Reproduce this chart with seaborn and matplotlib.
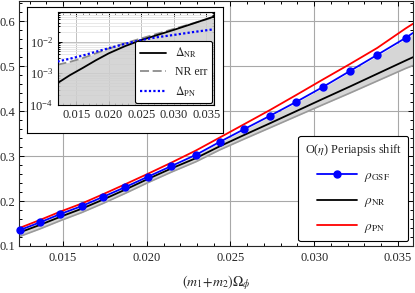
import matplotlib
matplotlib.use("Agg")
import matplotlib.pyplot as plt
import seaborn as sns
import numpy as np
from matplotlib.ticker import MultipleLocator, FormatStrFormatter, FixedLocator, LogLocator
from matplotlib.lines import Line2D

# ---------------- data ----------------
# main panel: orbital frequency (m1+m2)*Omega_phi
omega = [0.01243, 0.01363, 0.01484, 0.01612, 0.01741, 0.01872, 0.02006, 0.02147,
         0.02294, 0.02437, 0.02582, 0.02736, 0.02893, 0.03050, 0.03212, 0.03376,
         0.03546, 0.03590]
rho_gsf = [0.1356, 0.1527, 0.1711, 0.1889, 0.2096, 0.2311, 0.2540, 0.2778,
           0.3029, 0.3318, 0.3600, 0.3896, 0.4207, 0.4533, 0.4889, 0.5251,
           0.5629, 0.5740]
rho_nr = [0.1305, 0.1470, 0.1650, 0.1830, 0.2035, 0.2255, 0.2490, 0.2725,
          0.2955, 0.3220, 0.3470, 0.3730, 0.4000, 0.4270, 0.4545, 0.4830,
          0.5125, 0.5200]
rho_pn = [0.1405, 0.1580, 0.1765, 0.1945, 0.2155, 0.2375, 0.2605, 0.2855,
          0.3125, 0.3415, 0.3710, 0.4025, 0.4360, 0.4700, 0.5045, 0.5405,
          0.5840, 0.5944]
band_low = [0.1215, 0.1382, 0.1564, 0.1745, 0.1951, 0.2172, 0.2408, 0.2644,
            0.2875, 0.3140, 0.3380, 0.3630, 0.3885, 0.4140, 0.4400, 0.4670,
            0.4950, 0.5015]
band_high = [0.1350, 0.1520, 0.1703, 0.1880, 0.2086, 0.2300, 0.2528, 0.2765,
             0.3015, 0.3303, 0.3584, 0.3879, 0.4189, 0.4514, 0.4869, 0.5230,
             0.5607, 0.5718]
n_gsf_points = 17

# inset: relative differences
omega_in = [0.0121, 0.0140, 0.0160, 0.0180, 0.0200, 0.0225, 0.0250, 0.0275,
            0.0300, 0.0330, 0.0362]
delta_nr = [4.9e-4, 8.7e-4, 1.48e-3, 2.57e-3, 4.27e-3, 7.2e-3, 1.12e-2, 1.62e-2,
            2.34e-2, 3.72e-2, 6.17e-2]
nr_err = [1.86e-3, 2.29e-3, 3.02e-3, 4.27e-3, 6.03e-3, 8.9e-3, 1.26e-2, 1.78e-2,
          2.51e-2, 3.8e-2, 5.9e-2]
delta_pn = [2.34e-3, 2.88e-3, 3.63e-3, 4.79e-3, 6.17e-3, 8.5e-3, 1.12e-2, 1.38e-2,
            1.62e-2, 2.0e-2, 2.45e-2]

xticks = [0.015, 0.020, 0.025, 0.030, 0.035]
yticks = [0.1, 0.2, 0.3, 0.4, 0.5, 0.6]

# ---------------- style ----------------
sns.set_theme(style="ticks")
plt.rcParams["font.family"] = ["Liberation Serif", "DejaVu Serif"]
plt.rcParams["mathtext.fontset"] = "stix"
plt.rcParams["font.size"] = 9
plt.rcParams["axes.linewidth"] = 0.8

W, H = 415, 293
fig = plt.figure(figsize=(W / 100, H / 100), dpi=100)
ax = fig.add_axes([19 / W, 1 - 246 / H, 394 / W, 245 / H])

ax.fill_between(omega, band_low, band_high, color="#d6d6d6", lw=0, zorder=1)
sns.lineplot(x=omega, y=band_low, ax=ax, color="#9a9a9a", lw=1.2, zorder=2,
             estimator=None, sort=False)
sns.lineplot(x=omega, y=rho_nr, ax=ax, color="black", lw=1.3, zorder=3,
             estimator=None, sort=False)
sns.lineplot(x=omega, y=rho_pn, ax=ax, color="red", lw=1.3, zorder=3,
             estimator=None, sort=False)
sns.lineplot(x=omega, y=rho_gsf, ax=ax, color="blue", lw=1.3, zorder=4,
             estimator=None, sort=False)
ax.plot(omega[:n_gsf_points], rho_gsf[:n_gsf_points], "o", color="blue",
        ms=5, zorder=5, clip_on=False)

ax.set_xlim(0.01237, 0.0359)
ax.set_ylim(0.1, 0.645)
ax.xaxis.set_major_locator(FixedLocator(xticks))
ax.yaxis.set_major_locator(FixedLocator(yticks))
ax.xaxis.set_major_formatter(FormatStrFormatter("%.3f"))
ax.yaxis.set_major_formatter(FormatStrFormatter("%.1f"))
ax.xaxis.set_minor_locator(MultipleLocator(0.001))
ax.yaxis.set_minor_locator(MultipleLocator(0.02))
ax.tick_params(which="both", direction="in", top=True, right=True,
               labelsize=9, width=0.7, color="black")
ax.tick_params(which="major", length=3.5, pad=4)
ax.tick_params(axis="y", which="major", pad=2.5)
ax.tick_params(which="minor", length=2)
ax.grid(True, which="major", color="#a8a8a8", lw=0.8)
ax.set_xlabel(r"$(m_1\!+\!m_2)\Omega_\phi$", fontsize=10, labelpad=7)

handles = [Line2D([], [], color="blue", lw=1.3, marker="o", ms=5),
           Line2D([], [], color="black", lw=1.3),
           Line2D([], [], color="red", lw=1.3)]
labels = [r"$\rho_{\mathrm{GSF}}$", r"$\rho_{\mathrm{NR}}$", r"$\rho_{\mathrm{PN}}$"]
leg = ax.legend(handles, labels, title=r"O($\eta$) Periapsis shift",
                loc="lower right", fontsize=9.5, title_fontsize=8.8, frameon=True,
                fancybox=True, framealpha=1, edgecolor="black",
                handlelength=3.1, borderaxespad=0.35, labelspacing=0.85,
                borderpad=0.5, handletextpad=0.5)
leg.get_frame().set_linewidth(0.8)
leg.set_zorder(10)

# ---------------- inset ----------------
bg = fig.add_axes([27 / W, 1 - 133 / H, 196 / W, 126 / H], zorder=3)
bg.set_xticks([]); bg.set_yticks([])
bg.set_facecolor("white")
for s in bg.spines.values():
    s.set_color("black"); s.set_linewidth(0.8)

ins = fig.add_axes([57.5 / W, 1 - 105 / H, (214 - 57.5) / W, (105 - 12.3) / H], zorder=4)
ins.set_yscale("log")
ins.fill_between(omega_in, 1e-5, nr_err, color="#cfcfcf", alpha=0.85, lw=0, zorder=1)
sns.lineplot(x=omega_in, y=delta_nr, ax=ins, color="black", lw=1.3, zorder=3,
             estimator=None, sort=False, label=r"$\Delta_{\mathrm{NR}}$")
sns.lineplot(x=omega_in, y=nr_err, ax=ins, color="#8c8c8c", lw=1.3, zorder=2,
             estimator=None, sort=False, label="NR err", linestyle=(0, (5, 2)))
sns.lineplot(x=omega_in, y=delta_pn, ax=ins, color="blue", lw=1.6, zorder=3,
             estimator=None, sort=False, label=r"$\Delta_{\mathrm{PN}}$",
             linestyle=(0, (1, 1)))
ins.set_xlim(0.0121, 0.0362)
ins.set_ylim(1e-4, 0.084)
ins.xaxis.set_major_locator(FixedLocator(xticks))
ins.xaxis.set_major_formatter(FormatStrFormatter("%.3f"))
ins.xaxis.set_minor_locator(MultipleLocator(0.001))
ins.yaxis.set_major_locator(LogLocator(base=10, numticks=10))
ins.yaxis.set_minor_locator(LogLocator(base=10, subs=np.arange(2, 10), numticks=10))
ins.tick_params(which="both", direction="in", top=True, right=True,
                labelsize=9, width=0.7, color="black")
ins.tick_params(which="major", length=3, pad=3)
ins.tick_params(which="minor", length=1.5)
ins.tick_params(axis="y", which="minor", labelleft=False)
ins.grid(True, which="major", color="#c0c0c0", lw=0.7)
ins.grid(True, which="minor", axis="y", color="#e4e4e4", lw=0.6)
ins.set_xlabel(""); ins.set_ylabel("")
ileg = ins.legend(loc="lower right", fontsize=8.5, frameon=True, fancybox=True,
                  framealpha=1, edgecolor="black", handlelength=2.2,
                  borderaxespad=0.15, labelspacing=0.5, borderpad=0.4)
ileg.get_frame().set_linewidth(0.8)
for s in ins.spines.values():
    s.set_color("black"); s.set_linewidth(0.8)

fig.savefig("out.png", dpi=100)
